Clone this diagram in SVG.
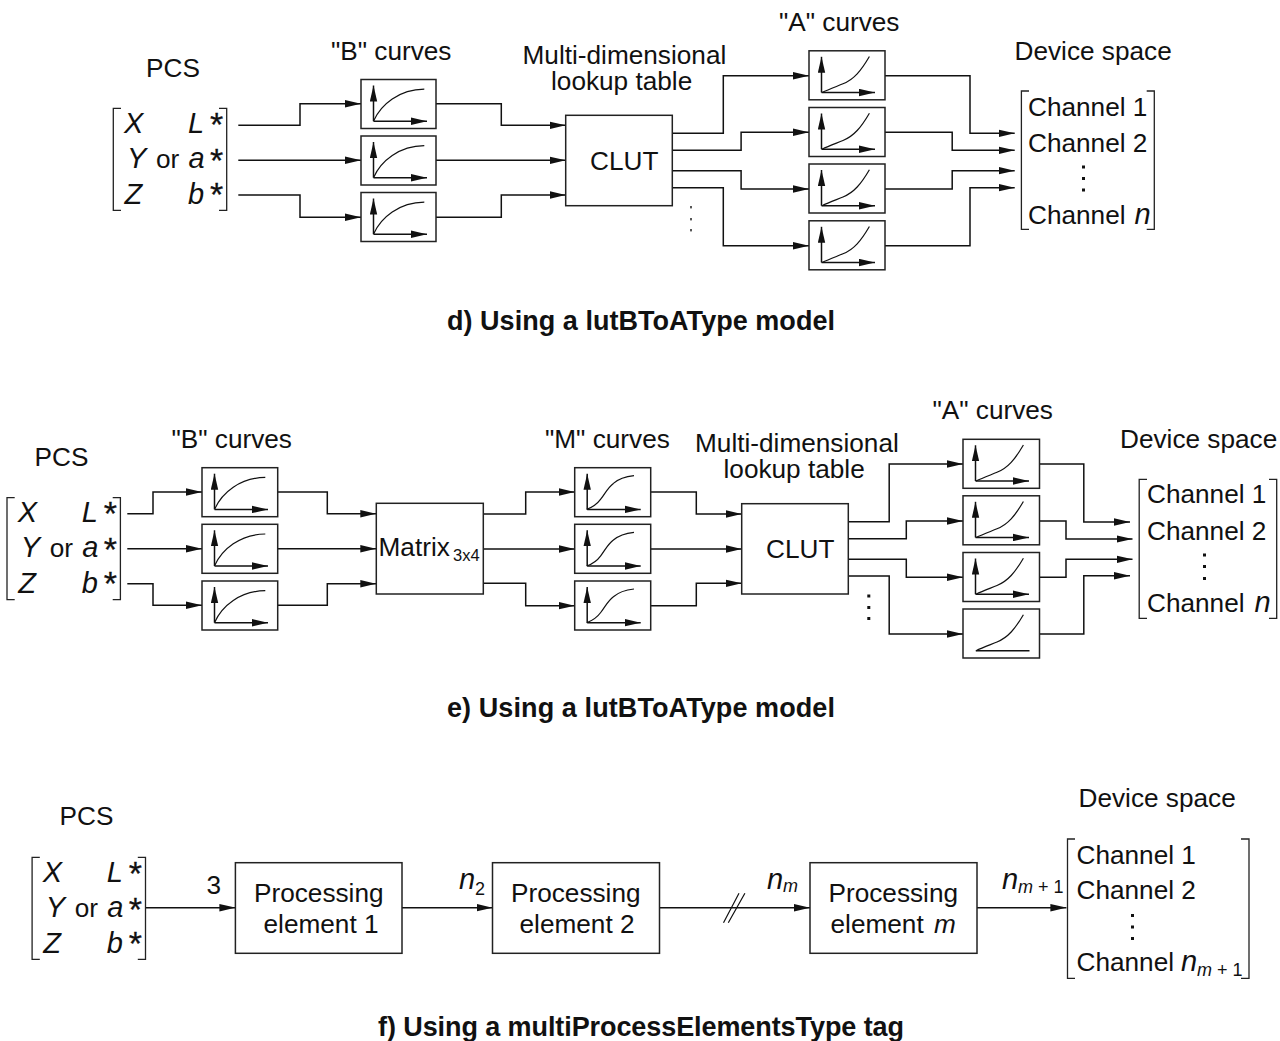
<svg xmlns="http://www.w3.org/2000/svg" xmlns:xlink="http://www.w3.org/1999/xlink" width="1280" height="1041" viewBox="0 0 1280 1041">
<style>
text{font-family:"Liberation Sans",Arial,sans-serif;font-size:26.200px;fill:#111}
.i{font-style:italic}
.v{font-style:italic;font-size:29px}
.s{font-size:18px}
.st{font-size:34px;stroke:#111;stroke-width:.3}
.cap{font-weight:bold;font-size:27px}
.b{fill:#fff;stroke:#222;stroke-width:1.5}
.w{fill:none;stroke:#111;stroke-width:1.5}
.c{fill:none;stroke:#111;stroke-width:1.2}
.br{fill:none;stroke:#222;stroke-width:1.3}
.d{fill:#111}
</style>
<defs>
<marker id="ah" markerUnits="userSpaceOnUse" markerWidth="16" markerHeight="8" refX="16" refY="4" orient="auto"><path d="M0,0.300L16,4L0,7.700z" fill="#111"/></marker>
<g id="axes"><path class="w" d="M12.500,41.700V6" marker-end="url(#ah)"/><path class="w" d="M12.500,41.700H66" marker-end="url(#ah)"/></g>
<path id="cb" class="c" d="M12.700,41.300C20,25 38,10 63.300,9.700"/>
<path id="ca" class="c" d="M13,41.700C20,38.500 28,35.500 34,33C45,28.500 52,20 60.400,5.700"/>
<path id="cm" class="c" d="M12,41.700C18,39.500 22,37 26,31.500C31,25 33,20 38.700,15.700C43,12 50,9 59.300,8"/>
<g id="mat">
<path class="br" d="M121,108.300H113.300V210.300H121M219,108.300H226.700V210.300H219"/>
<text class="v" x="124" y="133">X</text><text class="v" x="188" y="133">L</text><text class="st" x="210" y="135.500">*</text>
<text class="v" x="127" y="168">Y</text><text x="156" y="168">or</text><text class="v" x="188.500" y="168">a</text><text class="st" x="210" y="172">*</text>
<text class="v" x="124.500" y="204">Z</text><text class="v" x="188" y="204">b</text><text class="st" x="210" y="205.500">*</text>
</g>
</defs>
<rect width="1280" height="1041" fill="#fff"/>

<g id="connectors">
<g id="conn-d">
<path class="w" d="M238.300,125.300H300V103.700H361" marker-end="url(#ah)"/>
<path class="w" d="M238.300,160.300H361" marker-end="url(#ah)"/>
<path class="w" d="M238.300,195H300V217.300H361" marker-end="url(#ah)"/>
<path class="w" d="M436,103.700H501.300V125.300H565.700" marker-end="url(#ah)"/>
<path class="w" d="M436,160.300H565.700" marker-end="url(#ah)"/>
<path class="w" d="M436,217.300H501.300V195H565.700" marker-end="url(#ah)"/>
<path class="w" d="M672.300,133.300H723.300V75.700H809" marker-end="url(#ah)"/>
<path class="w" d="M672.300,150.300H741.100V132.300H809" marker-end="url(#ah)"/>
<path class="w" d="M672.300,170.700H741.100V189H809" marker-end="url(#ah)"/>
<path class="w" d="M672.300,187.700H723.300V245.700H809" marker-end="url(#ah)"/>
<path class="w" d="M885,75.700H970V133.300H1014.700" marker-end="url(#ah)"/>
<path class="w" d="M885,132.300H952.200V150.300H1014.700" marker-end="url(#ah)"/>
<path class="w" d="M885,189H952.200V170.700H1014.700" marker-end="url(#ah)"/>
<path class="w" d="M885,245.700H970V187.700H1014.700" marker-end="url(#ah)"/>
</g>
<g id="conn-e">
<path class="w" d="M127.300,513.700H153V492H202" marker-end="url(#ah)"/>
<path class="w" d="M127.300,548.700H202" marker-end="url(#ah)"/>
<path class="w" d="M127.300,583.700H153V605.300H202" marker-end="url(#ah)"/>
<path class="w" d="M277.700,492H327.300V513.700H376.300" marker-end="url(#ah)"/>
<path class="w" d="M277.700,548.700H376.300" marker-end="url(#ah)"/>
<path class="w" d="M277.700,605.300H327.300V583.700H376.300" marker-end="url(#ah)"/>
<path class="w" d="M483.300,514H525.700V492H574.700" marker-end="url(#ah)"/>
<path class="w" d="M483.300,549H574.700" marker-end="url(#ah)"/>
<path class="w" d="M483.300,583.300H525.700V605.700H574.700" marker-end="url(#ah)"/>
<path class="w" d="M650.700,492H696.300V514H741.700" marker-end="url(#ah)"/>
<path class="w" d="M650.700,549H741.700" marker-end="url(#ah)"/>
<path class="w" d="M650.700,605.700H696.300V583.300H741.700" marker-end="url(#ah)"/>
<path class="w" d="M848.300,521.700H889.200V464H963" marker-end="url(#ah)"/>
<path class="w" d="M848.300,538.700H906.300V521H963" marker-end="url(#ah)"/>
<path class="w" d="M848.300,559.300H906.300V577.300H963" marker-end="url(#ah)"/>
<path class="w" d="M848.300,576H889.200V634H963" marker-end="url(#ah)"/>
<path class="w" d="M1039.500,464H1083.800V522H1130" marker-end="url(#ah)"/>
<path class="w" d="M1039.500,521H1066V539H1132.500" marker-end="url(#ah)"/>
<path class="w" d="M1039.500,577.300H1066V559.300H1132.500" marker-end="url(#ah)"/>
<path class="w" d="M1039.500,634H1083.800V575.700H1130" marker-end="url(#ah)"/>
</g>
<g id="conn-f">
<path class="w" d="M145.300,907.700H235.400" marker-end="url(#ah)"/>
<path class="w" d="M402,907.700H492.500" marker-end="url(#ah)"/>
<path class="w" d="M659.500,907.700H810" marker-end="url(#ah)"/>
<path class="w" d="M977,907.700H1066.400" marker-end="url(#ah)"/>
<path class="c" d="M723.500,922.700L739,893.300M728.300,922.700L744.900,893.300"/>
</g>
</g>

<g id="section-d">
<text id="d-pcs-label" x="146" y="77">PCS</text>
<use id="d-pcs" href="#mat" xlink:href="#mat"/>
<text x="331" y="60">"B" curves</text>
<g id="d-b1" transform="translate(361,79.500)"><rect class="b" width="75" height="49"/><use href="#axes" xlink:href="#axes"/><use href="#cb" xlink:href="#cb"/></g>
<g id="d-b2" transform="translate(361,136)"><rect class="b" width="75" height="49"/><use href="#axes" xlink:href="#axes"/><use href="#cb" xlink:href="#cb"/></g>
<g id="d-b3" transform="translate(361,192.500)"><rect class="b" width="75" height="49"/><use href="#axes" xlink:href="#axes"/><use href="#cb" xlink:href="#cb"/></g>
<text><tspan x="522.500" y="64">Multi-dimensional</tspan><tspan x="551" y="90">lookup table</tspan></text>
<g id="d-clut"><rect class="b" x="565.700" y="115.300" width="106.600" height="90.400"/><text x="590" y="169.700">CLUT</text></g>
<g id="d-dots" class="d"><rect x="690.300" y="206" width="1.400" height="2.400"/><rect x="690.300" y="218" width="1.400" height="2.400"/><rect x="690.300" y="229" width="1.400" height="2.400"/></g>
<text x="779" y="31">"A" curves</text>
<g id="d-a1" transform="translate(809,50.800)"><rect class="b" width="76" height="49"/><use href="#axes" xlink:href="#axes"/><use href="#ca" xlink:href="#ca"/></g>
<g id="d-a2" transform="translate(809,107.500)"><rect class="b" width="76" height="49"/><use href="#axes" xlink:href="#axes"/><use href="#ca" xlink:href="#ca"/></g>
<g id="d-a3" transform="translate(809,164)"><rect class="b" width="76" height="49"/><use href="#axes" xlink:href="#axes"/><use href="#ca" xlink:href="#ca"/></g>
<g id="d-a4" transform="translate(809,220.800)"><rect class="b" width="76" height="49"/><use href="#axes" xlink:href="#axes"/><use href="#ca" xlink:href="#ca"/></g>
<text x="1014.500" y="60">Device space</text>
<g id="d-device">
<path class="br" d="M1029,91H1021.400V229.300H1029M1146.700,91H1154.300V229.300H1146.700"/>
<text x="1028" y="115.500">Channel 1</text><text x="1028" y="151.700">Channel 2</text>
<g class="d"><rect x="1082" y="165.500" width="3" height="3"/><rect x="1082" y="177" width="3" height="3"/><rect x="1082" y="188.500" width="3" height="3"/></g>
<text x="1028" y="223.500">Channel</text><text class="v" x="1134.500" y="223.500">n</text>
</g>
<text class="cap" x="447" y="329.500" textLength="388">d) Using a lutBToAType model</text>
</g>

<g id="section-e">
<text id="e-pcs-label" x="34.500" y="465.500">PCS</text>
<use id="e-pcs" href="#mat" xlink:href="#mat" transform="translate(-106.300,389.400)"/>
<text x="171.500" y="447.700">"B" curves</text>
<g id="e-b1" transform="translate(202,467.700)"><rect class="b" width="75.700" height="49"/><use href="#axes" xlink:href="#axes"/><use href="#cb" xlink:href="#cb"/></g>
<g id="e-b2" transform="translate(202,524.300)"><rect class="b" width="75.700" height="49"/><use href="#axes" xlink:href="#axes"/><use href="#cb" xlink:href="#cb"/></g>
<g id="e-b3" transform="translate(202,581)"><rect class="b" width="75.700" height="49"/><use href="#axes" xlink:href="#axes"/><use href="#cb" xlink:href="#cb"/></g>
<g id="e-matrix"><rect class="b" x="376.300" y="503.300" width="107" height="90.700"/><text x="378.500" y="556">Matrix</text><text class="s" x="453" y="560.700" style="font-size:16.500px">3x4</text></g>
<text x="545" y="447.700">"M" curves</text>
<g id="e-m1" transform="translate(574.700,467.700)"><rect class="b" width="76" height="49"/><use href="#axes" xlink:href="#axes"/><use href="#cm" xlink:href="#cm"/></g>
<g id="e-m2" transform="translate(574.700,524.300)"><rect class="b" width="76" height="49"/><use href="#axes" xlink:href="#axes"/><use href="#cm" xlink:href="#cm"/></g>
<g id="e-m3" transform="translate(574.700,581)"><rect class="b" width="76" height="49"/><use href="#axes" xlink:href="#axes"/><use href="#cm" xlink:href="#cm"/></g>
<text><tspan x="695" y="451.700">Multi-dimensional</tspan><tspan x="723.500" y="477.700">lookup table</tspan></text>
<g id="e-clut"><rect class="b" x="741.700" y="503.700" width="106.600" height="90.300"/><text x="766" y="557.700">CLUT</text></g>
<g id="e-dots" class="d"><rect x="867.300" y="594.500" width="3" height="3"/><rect x="867.300" y="606" width="3" height="3"/><rect x="867.300" y="617" width="3" height="3"/></g>
<text x="932.500" y="419.300">"A" curves</text>
<g id="e-a1" transform="translate(963,439.300)"><rect class="b" width="76.500" height="49"/><use href="#axes" xlink:href="#axes"/><use href="#ca" xlink:href="#ca"/></g>
<g id="e-a2" transform="translate(963,495.800)"><rect class="b" width="76.500" height="49"/><use href="#axes" xlink:href="#axes"/><use href="#ca" xlink:href="#ca"/></g>
<g id="e-a3" transform="translate(963,552.500)"><rect class="b" width="76.500" height="49"/><use href="#axes" xlink:href="#axes"/><use href="#ca" xlink:href="#ca"/></g>
<g id="e-a4" transform="translate(963,609)"><rect class="b" width="76.500" height="49"/><path class="w" d="M12.800,41.700H66.500"/><use href="#ca" xlink:href="#ca"/></g>
<text x="1120" y="447.700">Device space</text>
<g id="e-device">
<path class="br" d="M1147,479.300H1139.200V618.300H1147M1269,479.300H1276.700V618.300H1269"/>
<text x="1147" y="503.300">Channel 1</text><text x="1147" y="539.500">Channel 2</text>
<g class="d"><rect x="1203" y="553.500" width="3" height="3"/><rect x="1203" y="565" width="3" height="3"/><rect x="1203" y="577" width="3" height="3"/></g>
<text x="1147" y="612">Channel</text><text class="v" x="1254.500" y="612">n</text>
</g>
<text class="cap" x="447" y="717" textLength="388">e) Using a lutBToAType model</text>
</g>

<g id="section-f">
<text id="f-pcs-label" x="59.500" y="825">PCS</text>
<use id="f-pcs" href="#mat" xlink:href="#mat" transform="translate(-81.200,749)"/>
<text x="206.500" y="894">3</text>
<g id="f-p1"><rect class="b" x="235.400" y="862.700" width="166.600" height="90.600"/><text x="254" y="901.500">Processing</text><text x="263.500" y="933">element 1</text></g>
<text class="v" x="459" y="889.300">n</text><text class="s" x="475" y="895">2</text>
<g id="f-p2"><rect class="b" x="492.500" y="862.700" width="167" height="90.600"/><text x="511" y="901.500">Processing</text><text x="519.500" y="933">element 2</text></g>
<text class="v" x="767" y="889.300">n</text><text class="s i" x="783" y="892">m</text>
<g id="f-pm"><rect class="b" x="810" y="862.700" width="167" height="90.600"/><text x="828.500" y="901.500">Processing</text><text x="830.500" y="933.300">element <tspan class="i" dx="3">m</tspan></text></g>
<text class="v" x="1002" y="889.300">n</text><text class="s" x="1018" y="893"><tspan class="i">m</tspan> + 1</text>
<text x="1078.500" y="807">Device space</text>
<g id="f-device">
<path class="br" d="M1075,839H1067.500V978.300H1075M1241,839H1249V978.300H1241"/>
<text x="1076.500" y="864">Channel 1</text><text x="1076.500" y="899.300">Channel 2</text>
<g class="d"><rect x="1131" y="914" width="3" height="3"/><rect x="1131" y="925.500" width="3" height="3"/><rect x="1131" y="937" width="3" height="3"/></g>
<text x="1076.500" y="971">Channel</text><text class="v" x="1181" y="971">n</text><text class="s" x="1197" y="976"><tspan class="i">m</tspan> + 1</text>
</g>
<text class="cap" x="378" y="1036" textLength="526">f) Using a multiProcessElementsType tag</text>
</g>
</svg>
